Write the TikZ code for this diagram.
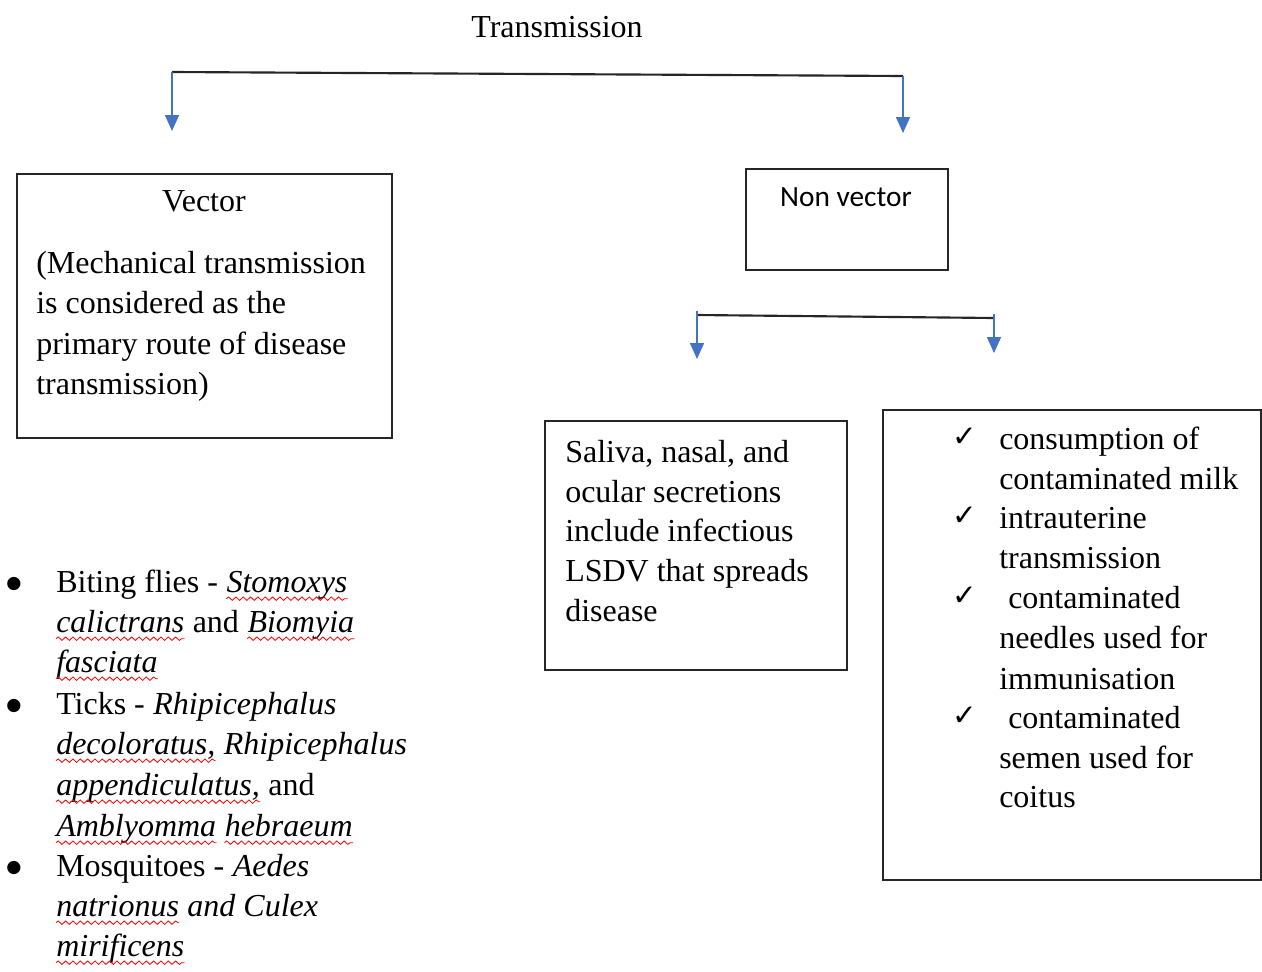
\documentclass[tikz,border=0pt]{standalone}
\usepackage{fontspec}
\setmainfont{Liberation Serif}
\newfontfamily\calib{Carlito}
\newfontfamily\dejavu{DejaVu Sans}
\usetikzlibrary{arrows.meta,decorations.pathmorphing}
\definecolor{arrowblue}{HTML}{4472C4}
\tikzset{
  txt/.style={anchor=base west,inner sep=0pt,font=\fontsize{24}{30}\selectfont},
  itxt/.style={txt,font=\fontsize{24}{30}\selectfont\itshape},
  ctxt/.style={anchor=base,inner sep=0pt,font=\fontsize{24}{30}\selectfont},
  box/.style={draw=black!85,line width=1.3pt,inner sep=0pt},
  bracket/.style={draw=black!85,line width=1.6pt},
  blue arrow/.style={draw=arrowblue,line width=1.2pt,-{Triangle[width=10.5pt,length=12pt]}},
  chk/.style={anchor=base,inner sep=0pt,font=\dejavu\fontsize{22}{22}\selectfont},
  bul/.style={anchor=base,inner sep=0pt,font=\dejavu\fontsize{13}{13}\selectfont},
  wave/.style={draw=red,line width=0.6pt,decorate,decoration={snake,amplitude=1.3pt,segment length=5.5pt}},
}
\newcommand\wavy[1]{\draw[wave] ([yshift=-5pt]#1.base west) -- ([yshift=-5pt]#1.base east);}
\begin{document}
\begin{tikzpicture}[x=0.75pt,y=-0.75pt]
\useasboundingbox (0,0) rectangle (1262,971);
% title
\node[ctxt] (title) at (557,37) {Transmission};
% top bracket
\coordinate (tl) at (172,72);
\coordinate (tr) at (903,76);
\coordinate (tla) at (172,131);
\coordinate (tra) at (903,133);
\draw[bracket] (tl) -- (tr);
\draw[blue arrow] (tl) -- (tla);
\draw[blue arrow] (tr) -- (tra);
% vector box
\node[box,minimum width=375*0.75pt,minimum height=264*0.75pt] (vecbox) at (204.5,306) {};
\node[ctxt] (vectitle) at (204,211) {Vector};
\node[txt] (v1) at (36,273) {(Mechanical transmission};
\node[txt] (v2) at (36,313) {is considered as the};
\node[txt] (v3) at (36,354) {primary route of disease};
\node[txt] (v4) at (36,394) {transmission)};
% non vector box
\node[box,minimum width=202*0.75pt,minimum height=101*0.75pt] (nvbox) at (847,219.5) {};
\node[anchor=base,inner sep=0pt,font=\calib\fontsize{22}{26}\selectfont] (nvtxt) at (846,206) {Non vector};
% second bracket
\coordinate (sl0) at (697,311);
\coordinate (sl) at (697,315);
\coordinate (sr) at (994,318);
\coordinate (sr0) at (994,314);
\coordinate (sla) at (697,359);
\coordinate (sra) at (994,353);
\draw[bracket] (sl) -- (sr);
\draw[blue arrow] (sl0) -- (sla);
\draw[blue arrow] (sr0) -- (sra);
% saliva box
\node[box,minimum width=302*0.75pt,minimum height=249*0.75pt] (salbox) at (696,545.5) {};
\node[txt] (s1) at (565,462) {Saliva, nasal, and};
\node[txt] (s2) at (565,502) {ocular secretions};
\node[txt] (s3) at (565,541) {include infectious};
\node[txt] (s4) at (565,581) {LSDV that spreads};
\node[txt] (s5) at (565,621) {disease};
% right box
\node[box,minimum width=378*0.75pt,minimum height=470*0.75pt] (rbox) at (1072,645) {};
\node[chk] (c1) at (965,446) {✓};
\node[chk] (c2) at (965,525) {✓};
\node[chk] (c3) at (965,605) {✓};
\node[chk] (c4) at (965,725) {✓};
\node[txt] (r1) at (999,449) {consumption of};
\node[txt] (r2) at (999,489) {contaminated milk};
\node[txt] (r3) at (999,528) {intrauterine};
\node[txt] (r4) at (999,568) {transmission};
\node[txt] (r5) at (1008,608) {contaminated};
\node[txt] (r6) at (999,648) {needles used for};
\node[txt] (r7) at (999,689) {immunisation};
\node[txt] (r8) at (1008,728) {contaminated};
\node[txt] (r9) at (999,768) {semen used for};
\node[txt] (r10) at (999,807) {coitus};
% bullet list
\node[bul] (b1) at (14,588) {●};
\node[bul] (b2) at (14,710) {●};
\node[bul] (b3) at (14,872) {●};
\node[txt] (l1a) at (56,592) {Biting flies -};
\node[itxt,xshift=6pt] (l1b) at (l1a.base east) {Stomoxys};
\node[itxt] (l2a) at (56,632) {calictrans};
\node[txt,xshift=6pt] (l2b) at (l2a.base east) {and};
\node[itxt,xshift=6pt] (l2c) at (l2b.base east) {Biomyia};
\node[itxt] (l3a) at (56,672) {fasciata};
\node[txt] (l4a) at (56,714) {Ticks -};
\node[itxt,xshift=6pt] (l4b) at (l4a.base east) {Rhipicephalus};
\node[itxt] (l5a) at (56,754) {decoloratus,};
\node[itxt,xshift=6pt] (l5b) at (l5a.base east) {Rhipicephalus};
\node[itxt] (l6a) at (56,795) {appendiculatus,};
\node[txt,xshift=6pt] (l6b) at (l6a.base east) {and};
\node[itxt] (l7a) at (56,836) {Amblyomma};
\node[itxt,xshift=6pt] (l7b) at (l7a.base east) {hebraeum};
\node[txt] (l8a) at (56,876) {Mosquitoes -};
\node[itxt,xshift=6pt] (l8b) at (l8a.base east) {Aedes};
\node[itxt] (l9a) at (56,916) {natrionus};
\node[itxt,xshift=6pt] (l9b) at (l9a.base east) {and Culex};
\node[itxt] (l10a) at (56,956) {mirificens};
\wavy{l1b}\wavy{l2a}\wavy{l2c}\wavy{l3a}\wavy{l5a}\wavy{l6a}\wavy{l7a}\wavy{l7b}\wavy{l9a}\wavy{l10a}
\end{tikzpicture}
\end{document}
